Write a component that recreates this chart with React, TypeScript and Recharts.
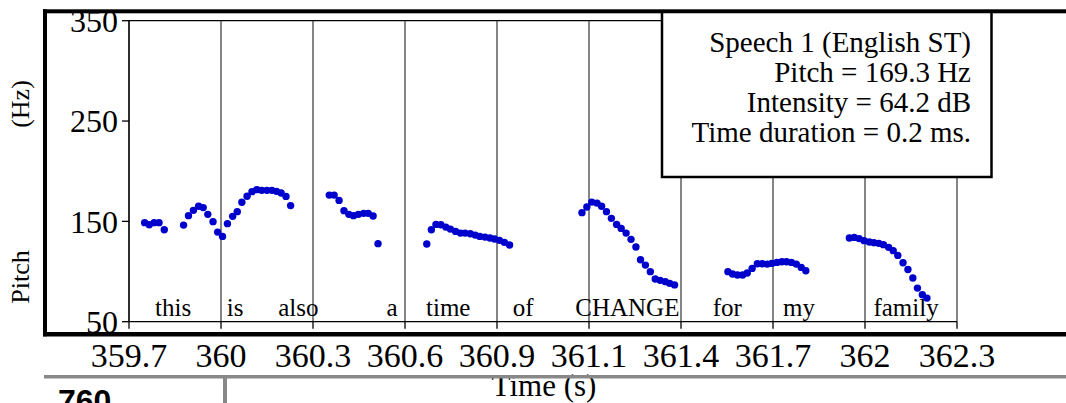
import React from "react";
import {
  ScatterChart, Scatter, XAxis, YAxis, CartesianGrid, ReferenceLine,
} from "recharts";

// pitch track (Praat-style), one row per frame
const timeS = [
  359.751, 359.766, 359.782, 359.798, 359.815, 359.878, 359.894, 359.91, 359.927, 359.942,
  359.957, 359.974, 359.989, 360.005, 360.021, 360.038, 360.053, 360.068, 360.085, 360.101,
  360.117, 360.133, 360.15, 360.166, 360.181, 360.196, 360.212, 360.227,
  360.353, 360.369, 360.385, 360.401, 360.417, 360.432, 360.448, 360.465, 360.48, 360.496, 360.512,
  360.671, 360.686, 360.701, 360.717, 360.733, 360.748, 360.765, 360.781, 360.796, 360.813,
  360.829, 360.844, 360.861, 360.877, 360.892, 360.908, 360.924, 360.941,
  361.177, 361.193, 361.209, 361.226, 361.241, 361.257, 361.273, 361.29, 361.305, 361.321,
  361.337, 361.353, 361.368, 361.384, 361.4, 361.416, 361.432, 361.449, 361.463, 361.479,
  361.653, 361.668, 361.684, 361.701, 361.716, 361.732, 361.749, 361.765, 361.781, 361.796,
  361.813, 361.829, 361.844, 361.86, 361.876, 361.892, 361.907,
  362.049, 362.065, 362.081, 362.097, 362.114, 362.129, 362.145, 362.16, 362.177, 362.192,
  362.207, 362.224, 362.24, 362.256, 362.271, 362.287, 362.302,
];

const pitchHz = [
  148.7, 146.7, 148.7, 148.7, 141.7, 146.3, 155.7, 161.0, 165.0, 163.7,
  157.0, 149.7, 139.3, 135.0, 147.7, 155.0, 159.7, 169.0, 175.0, 179.6,
  181.6, 180.9, 180.9, 180.9, 179.9, 178.2, 174.9, 165.7,
  176.2, 176.2, 170.9, 160.7, 157.0, 155.7, 157.0, 158.0, 158.0, 155.3, 127.8,
  127.4, 141.7, 147.0, 146.7, 144.3, 142.3, 140.0, 138.3, 138.3, 137.7,
  136.3, 135.0, 134.3, 133.4, 132.4, 131.1, 129.1, 126.4,
  158.7, 164.3, 169.2, 168.2, 165.0, 159.7, 153.0, 147.0, 143.0, 138.3,
  132.1, 124.4, 111.8, 106.4, 99.9, 92.5, 91.2, 89.9, 88.2, 86.7,
  99.9, 97.5, 96.5, 96.5, 98.5, 103.1, 107.8, 107.8, 107.4, 108.1,
  109.1, 109.8, 109.8, 109.1, 107.4, 104.1, 100.8,
  133.4, 134.0, 132.8, 130.8, 129.4, 128.8, 128.1, 126.8, 124.1, 120.8,
  116.1, 108.8, 102.1, 93.5, 83.5, 76.9, 73.5,
];

// word annotations along the bottom of the plot
const words = ["this", "is", "also", "a", "time", "of", "CHANGE", "for", "my", "family"];
const wordTimeS = [359.844, 360.046, 360.252, 360.558, 360.741, 360.985, 361.325, 361.651, 361.885, 362.234];
const wordHz = 56;

const xTickTimes = [359.7, 360.0, 360.3, 360.6, 360.9, 361.2, 361.5, 361.8, 362.1, 362.4];
const xTickLabels = ["359.7", "360", "360.3", "360.6", "360.9", "361.1", "361.4", "361.7", "362", "362.3"];
const yTicks = [50, 150, 250, 350];

const legendLines = [
  "Speech 1 (English ST)",
  "Pitch = 169.3 Hz",
  "Intensity = 64.2 dB",
  "Time duration = 0.2 ms.",
];

const SERIF = "Liberation Serif, DejaVu Serif, serif";

const pitchData = timeS.map((t, i) => ({ t, hz: pitchHz[i] }));
const wordData = words.map((w, i) => ({ t: wordTimeS[i], hz: wordHz, word: w }));

const Dot = (props: any) => <circle cx={props.cx} cy={props.cy} r={3.7} fill="#0000cd" />;

const WordLabel = (props: any) => (
  <text x={props.cx} y={props.cy} textAnchor="middle" style={{ fontFamily: SERIF }} fontSize={25} fill="#000">
    {props.payload.word}
  </text>
);

const serifText = { fontFamily: SERIF };

export default function App() {
  return (
    <div style={{ position: "relative", width: 1066, height: 403, background: "#fff", overflow: "hidden", fontFamily: SERIF }}>
      <style>{"body{margin:0}"}</style>
      <ScatterChart width={1066} height={403} margin={{ top: 20.7, right: 109, bottom: 41.3, left: 69 }}
        style={{ fontFamily: SERIF }}>
        <CartesianGrid horizontal={false} stroke="#444" strokeWidth={1.3} />
        <ReferenceLine y={350} stroke="#000" strokeWidth={1.3} />
        <XAxis
          type="number" dataKey="t" domain={[359.7, 362.4]} ticks={xTickTimes} height={40}
          tickFormatter={(v: number) => xTickLabels[xTickTimes.findIndex((x) => Math.abs(x - v) < 1e-6)]}
          tickSize={7} tickMargin={14} interval={0}
          tick={{ fontSize: 34, fontFamily: SERIF, fill: "#000" }}
          axisLine={{ stroke: "#000", strokeWidth: 1.3 }} tickLine={{ stroke: "#000", strokeWidth: 1.3 }}
        />
        <YAxis
          type="number" dataKey="hz" domain={[50, 350]} ticks={yTicks} width={60}
          tickSize={7} tickMargin={4} interval={0}
          tick={{ fontSize: 32, fontFamily: SERIF, fill: "#000" }}
          axisLine={{ stroke: "#000", strokeWidth: 1.3 }} tickLine={{ stroke: "#000", strokeWidth: 1.3 }}
        />
        <Scatter data={pitchData} shape={Dot} isAnimationActive={false} />
        <Scatter data={wordData} shape={WordLabel} isAnimationActive={false} />
      </ScatterChart>

      <svg width={1066} height={403} style={{ position: "absolute", left: 0, top: 0, pointerEvents: "none" }}>
        <rect x={0} y={0} width={1066} height={9.3} fill="#fff" />
        {/* thick frame */}
        <rect x={43} y={9.3} width={1023} height={4} fill="#000" />
        <rect x={43} y={9.3} width={4} height={327} fill="#000" />
        <rect x={43} y={332} width={1023} height={4.5} fill="#000" />

        {/* legend box */}
        <rect x={662} y={12} width={329.5} height={165} fill="#fff" stroke="#000" strokeWidth={2.5} />
        {legendLines.map((s, i) => (
          <text key={s} x={971} y={52 + i * 30} textAnchor="end" style={serifText} fontSize={29} fill="#000">{s}</text>
        ))}

        {/* y axis title */}
        <text transform="translate(29 104) rotate(-90)" textAnchor="middle" style={serifText} fontSize={26} fill="#000">(Hz)</text>
        <text transform="translate(29 277) rotate(-90)" textAnchor="middle" style={serifText} fontSize={26} fill="#000">Pitch</text>

        {/* x axis title, partly under the page rule */}
        <text x={544} y={396} textAnchor="middle" style={serifText} fontSize={31} fill="#000">Time (s)</text>
        <rect x={44} y={375} width={1022} height={3.5} fill="#888" />
        <rect x={223} y={376} width={4} height={27} fill="#888" />
        <text x={58} y={412} style={{ fontFamily: "Liberation Sans, Arial, sans-serif" }} fontWeight="bold" fontSize={32} fill="#000">760</text>
      </svg>
    </div>
  );
}
